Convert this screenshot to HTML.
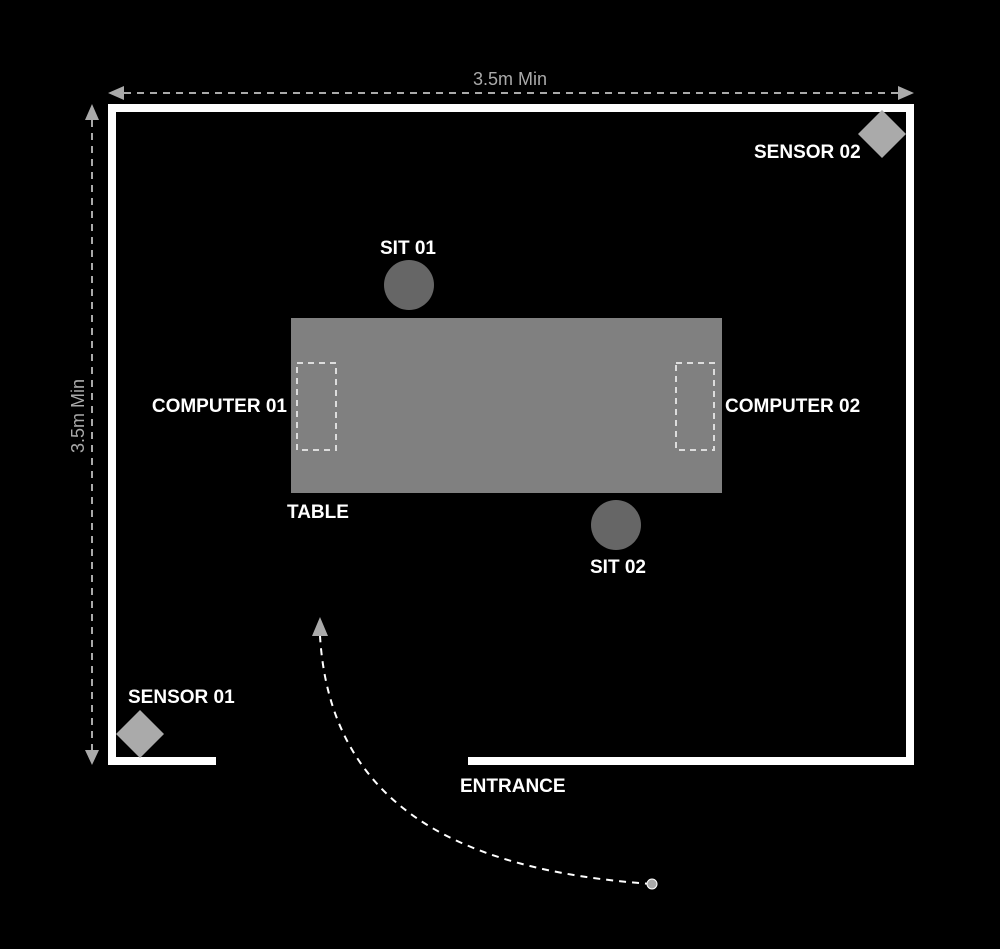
<!DOCTYPE html>
<html><head><style>
body{margin:0;background:#000;width:1000px;height:944px;overflow:hidden}
text{font-family:"Liberation Sans",sans-serif;font-weight:bold;font-size:19px;fill:#fff}
</style></head><body>
<svg width="1000" height="944" viewBox="0 0 1000 944">
<g stroke="#aaa" stroke-width="2" stroke-dasharray="7,6" fill="none">
<line x1="124" y1="93" x2="898" y2="93"/>
<line x1="92" y1="120" x2="92" y2="750"/>
</g>
<g fill="#aaa">
<polygon points="108,93 124,86 124,100"/>
<polygon points="914,93 898,86 898,100"/>
<polygon points="92,104 85,120 99,120"/>
<polygon points="92,765 85,750 99,750"/>
</g>
<text x="510" y="85" text-anchor="middle" style="fill:#aaa;font-weight:normal;font-size:18px">3.5m Min</text>
<text transform="translate(84,416) rotate(-90)" text-anchor="middle" style="fill:#aaa;font-weight:normal;font-size:18px">3.5m Min</text>
<g fill="#fff">
<rect x="108" y="104" width="806" height="8"/>
<rect x="108" y="104" width="8" height="661"/>
<rect x="906" y="104" width="8" height="661"/>
<rect x="108" y="757" width="108" height="8"/>
<rect x="468" y="757" width="446" height="8"/>
</g>
<rect x="291" y="318" width="431" height="175" fill="#808080"/>
<g fill="none" stroke="#ddd" stroke-width="2" stroke-dasharray="6,5">
<rect x="297" y="363" width="39" height="87"/>
<rect x="676" y="363" width="38" height="87"/>
</g>
<circle cx="409" cy="285" r="25" fill="#666"/>
<circle cx="616" cy="525" r="25" fill="#666"/>
<polygon points="140,710 164,734 140,758 116,734" fill="#aaa"/>
<polygon points="882,110 906,134 882,158 858,134" fill="#aaa"/>
<path d="M652,884 C 450,870 330,800 320,636" fill="none" stroke="#fff" stroke-width="2" stroke-dasharray="7,6"/>
<polygon points="320,617 312,636 328,636" fill="#aaa"/>
<circle cx="652" cy="884" r="5" fill="#aaa" stroke="#fff" stroke-width="1"/>
<text x="408" y="254" text-anchor="middle">SIT 01</text>
<text x="618" y="573" text-anchor="middle">SIT 02</text>
<text x="287" y="412" text-anchor="end">COMPUTER 01</text>
<text x="725" y="412">COMPUTER 02</text>
<text x="287" y="518">TABLE</text>
<text x="128" y="703">SENSOR 01</text>
<text x="754" y="158">SENSOR 02</text>
<text x="460" y="792">ENTRANCE</text>
</svg>
</body></html>
